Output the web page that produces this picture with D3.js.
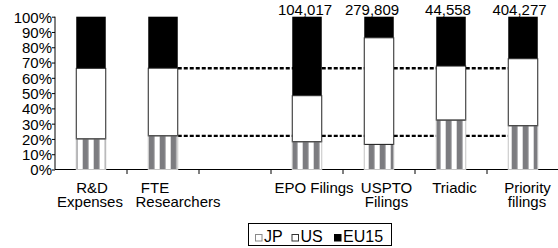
<!DOCTYPE html>
<html>
<head>
<meta charset="utf-8">
<script src="https://cdn.jsdelivr.net/npm/d3@7"></script>
<style>
  html, body { margin: 0; padding: 0; background: #fff; }
  svg { display: block; }
  text { font-family: Arial, Helvetica, sans-serif; fill: #000; }
</style>
</head>
<body>
<svg id="chart" width="558" height="248"></svg>
<script>
// ---- data ----
const categories = ["R&D Expenses", "FTE Researchers", "", "EPO Filings", "USPTO Filings", "Triadic", "Priority filings"];
const labelLines = [["R&D", "Expenses"], ["FTE", "Researchers"], [], ["EPO Filings"], ["USPTO", "Filings"], ["Triadic"], ["Priority", "filings"]];
const jpShare = [20.0, 22.0, null, 18.1, 16.4, 32.3, 28.6];
const usShare = [46.2, 44.3, null, 30.2, 69.8, 35.4, 43.9];
const eu15Share = [33.8, 33.7, null, 51.7, 13.8, 32.3, 27.5];
const totals = ["", "", "", "104,017", "279,809", "44,558", "404,277"];
const refLevels = [22.0, 66.3];
const yTicks = [0, 10, 20, 30, 40, 50, 60, 70, 80, 90, 100];
const legendItems = ["JP", "US", "EU15"];

// ---- layout ----
const FONT = "Arial, Helvetica, sans-serif";
const svg = d3.select("#chart");
const x = d3.scaleBand().domain(d3.range(categories.length)).range([55, 559]).padding(0);
const y = d3.scaleLinear().domain([0, 100]).range([169.5, 16.7]);
const barW = 29.5;
const cx = i => x(i) + x.bandwidth() / 2;
// small per-line nudges of the category labels, as set in the original
const labelNudge = [[1, -1], [-8, 15], [], [7], [7.5, 7.5], [3.5], [4.5, 4]];
const totalNudge = [0, 0, 0, -2, -7, -3, -3.5];

const defs = svg.append("defs");
const pat = defs.append("pattern").attr("id", "stripes")
  .attr("patternUnits", "userSpaceOnUse")
  .attr("x", 5.7).attr("y", 0).attr("width", 11).attr("height", 20);
pat.append("rect").attr("width", 11).attr("height", 20).attr("fill", "#fff");
pat.append("rect").attr("x", 0).attr("width", 5.8).attr("height", 20).attr("fill", "#7c7c80");

// y axis
const yAxis = svg.append("g").attr("transform", "translate(55,0)")
  .call(d3.axisLeft(y).tickValues(yTicks).tickFormat(d => d + "%").tickSize(3).tickPadding(0));
yAxis.attr("font-family", FONT).attr("font-size", 15);
yAxis.select(".domain").attr("d", `M0,${y(100)}V${y(0)}`).attr("stroke", "#000");
yAxis.selectAll(".tick line").attr("stroke", "#000");
yAxis.selectAll(".tick text").attr("fill", "#000").attr("dy", "0.36em");

// x axis line and ticks at category boundaries
svg.append("line").attr("x1", 55).attr("x2", 558).attr("y1", y(0)).attr("y2", y(0)).attr("stroke", "#000").attr("stroke-width", 1.2);
svg.selectAll(".xtick").data(d3.range(1, categories.length)).join("line")
  .attr("x1", i => x(i)).attr("x2", i => x(i))
  .attr("y1", y(0)).attr("y2", y(0) + 4.5).attr("stroke", "#000");

// x labels (one text per line)
labelLines.forEach((lines, i) => {
  lines.forEach((line, j) => {
    svg.append("text").attr("text-anchor", "middle").attr("font-size", 15)
      .attr("x", cx(i) + labelNudge[i][j]).attr("y", 192.5 + j * 14.8).text(line);
  });
});

// dashed reference lines (FTE levels)
const fteIdx = 1, lastIdx = categories.length - 1;
svg.selectAll(".ref").data(refLevels).join("line")
  .attr("x1", cx(fteIdx) + barW / 2).attr("x2", cx(lastIdx) - barW / 2)
  .attr("y1", d => y(d)).attr("y2", d => y(d))
  .attr("stroke", "#000").attr("stroke-width", 2.4).attr("stroke-dasharray", "4,2");

// bars
const idx = d3.range(categories.length).filter(i => jpShare[i] !== null);
const bars = svg.selectAll(".bar").data(idx).join("g");
bars.append("rect") // EU15
  .attr("x", i => cx(i) - barW / 2).attr("width", barW)
  .attr("y", i => y(jpShare[i] + usShare[i] + eu15Share[i]))
  .attr("height", i => y(jpShare[i] + usShare[i]) - y(jpShare[i] + usShare[i] + eu15Share[i]))
  .attr("fill", "#000");
bars.append("rect") // US
  .attr("x", i => cx(i) - barW / 2).attr("width", barW)
  .attr("y", i => y(jpShare[i] + usShare[i]))
  .attr("height", i => y(jpShare[i]) - y(jpShare[i] + usShare[i]))
  .attr("fill", "#fff").attr("stroke", "#222").attr("stroke-width", 1);
bars.append("rect") // JP
  .attr("x", i => cx(i) - barW / 2).attr("width", barW)
  .attr("y", i => y(jpShare[i]))
  .attr("height", i => y(0) - y(jpShare[i]))
  .attr("fill", "url(#stripes)").attr("stroke", "#c4c4c4").attr("stroke-width", 1);
bars.append("line")
  .attr("x1", i => cx(i) - barW / 2).attr("x2", i => cx(i) + barW / 2)
  .attr("y1", i => y(jpShare[i])).attr("y2", i => y(jpShare[i]))
  .attr("stroke", "#222").attr("stroke-width", 1);

// totals above bars
svg.selectAll(".tot").data(totals).join("text")
  .attr("x", (d, i) => cx(i) + totalNudge[i]).attr("y", 14.5)
  .attr("text-anchor", "middle").attr("font-size", 15).text(d => d);

// legend
const lg = svg.append("g");
lg.append("rect").attr("x", 248.5).attr("y", 223.5).attr("width", 143).attr("height", 22)
  .attr("fill", "#fff").attr("stroke", "#000").attr("stroke-width", 1);
const swX = [255, 291.5, 334];
const swFill = ["#fff", "#fff", "#000"];
const swStroke = ["#8a8a8a", "#333", "#000"];
legendItems.forEach((name, k) => {
  lg.append("rect").attr("x", swX[k] + 0.5).attr("y", 234.5).attr("width", 6.5).attr("height", 6.5)
    .attr("fill", swFill[k]).attr("stroke", swStroke[k]).attr("stroke-width", 1);
  lg.append("text").attr("x", swX[k] + 9).attr("y", 242).attr("font-size", 16).text(name);
});
</script>
</body>
</html>
